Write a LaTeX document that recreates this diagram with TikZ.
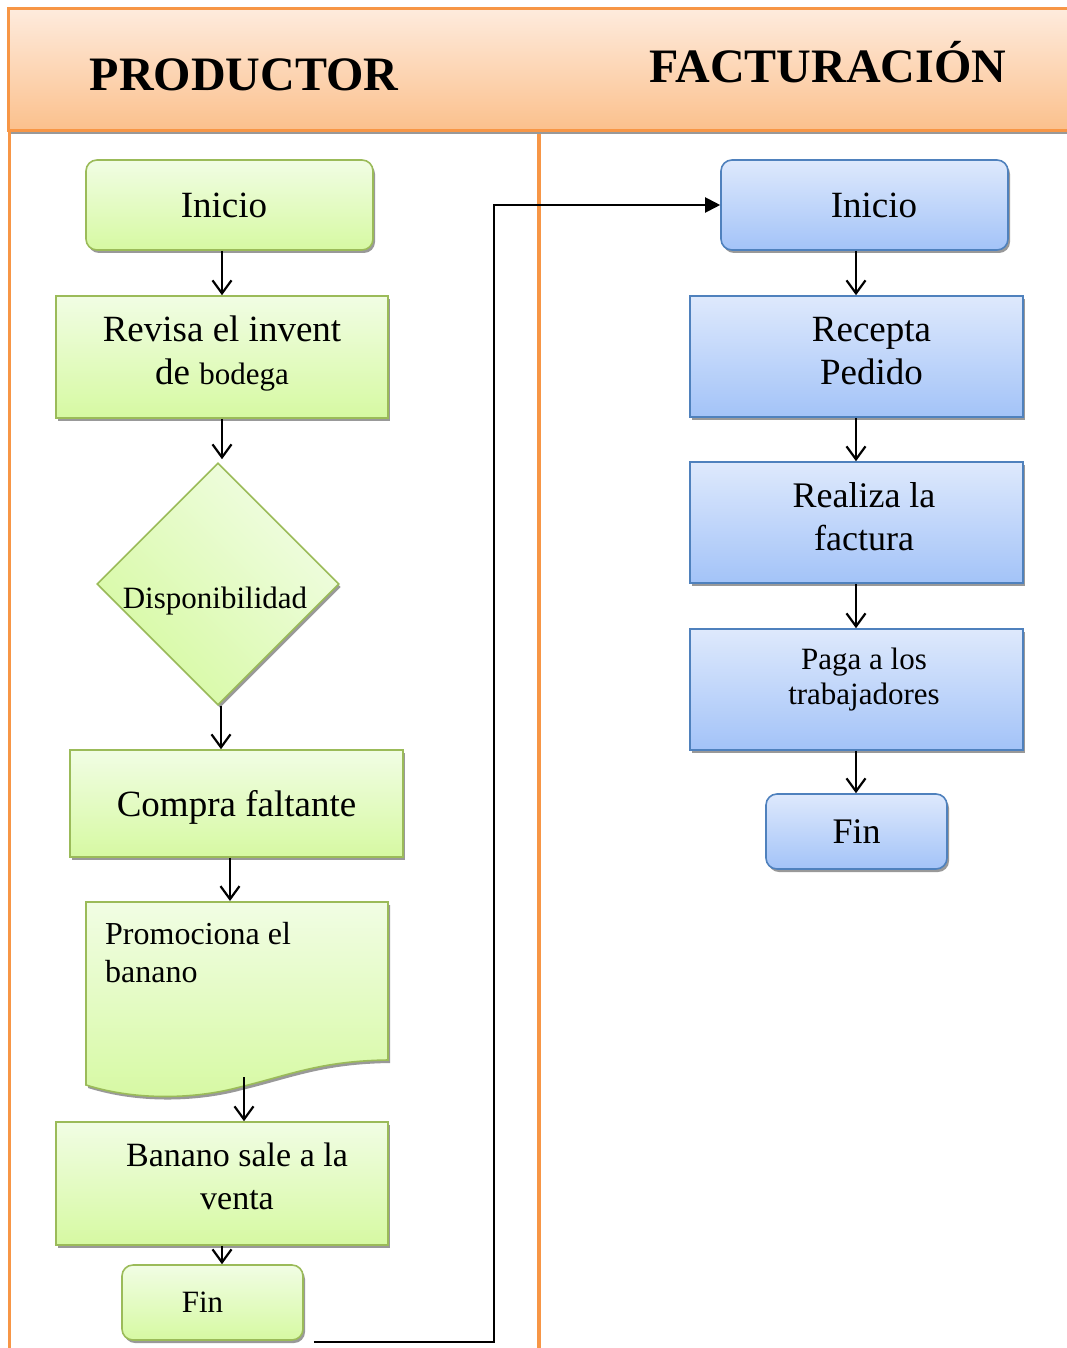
\documentclass[tikz,border=0pt]{standalone}
\usepackage{fontspec}
\setmainfont{Liberation Serif}
\usetikzlibrary{shapes.geometric,arrows.meta,shadows,calc}
\definecolor{orng}{HTML}{F79646}
\definecolor{hdtop}{HTML}{FEEBDD}
\definecolor{hdbot}{HTML}{FBC08C}
\definecolor{gtop}{HTML}{F1FDE4}
\definecolor{gbot}{HTML}{D6F9A2}
\definecolor{gbrd}{HTML}{9BBB59}
\definecolor{btop}{HTML}{DEE9FC}
\definecolor{bbot}{HTML}{A3C3F8}
\definecolor{bbrd}{HTML}{4F81BD}
\newcommand\myfs[2]{\fontsize{#1}{#2}\selectfont}
\newcommand\dn[1]{\rule[-#1pt]{0pt}{#1pt}}
\tikzset{
 shad/.style={drop shadow={shadow xshift=2pt,shadow yshift=-3pt,fill=black!40,opacity=1}},
 gbox/.style={draw=gbrd,line width=1.6pt,top color=gtop,bottom color=gbot,shad,inner sep=0pt,align=center},
 bbox/.style={draw=bbrd,line width=1.6pt,top color=btop,bottom color=bbot,shad,inner sep=0pt,align=center},
 rnd/.style={rounded corners=11pt},
 arr/.style={line width=2.2pt,-{Straight Barb[length=13pt,width=19pt]}},
 link/.style={line width=2pt,-{Triangle[length=15pt,width=15pt]}},
 lane/.style={draw=orng,line width=3.5pt},
 title/.style={font=\bfseries\myfs{48}{52}}
}
\begin{document}
\begin{tikzpicture}[x=1pt,y=-1pt]
\useasboundingbox (0,0) rectangle (1067,1348);
\fill[white] (0,0) rectangle (1067,1348);
% lanes
\draw[lane] (9.5,131) -- (9.5,1355);
\draw[lane] (539,131) -- (539,1355);
\path[draw=orng,line width=3pt,top color=hdtop,bottom color=hdbot,shad] (8.5,9) rectangle (1080,131);
\node[title] (tP) at (244,75) {PRODUCTOR};
\node[title] (tF) at (828,62) {FACTURACIÓN};
% arrow x positions
\coordinate (xa) at (222,0);
\coordinate (xb) at (221,0);
\coordinate (xc) at (230,0);
\coordinate (xd) at (244,0);
\coordinate (xr) at (856,0);
\coordinate (xl) at (494,0);
% left column
\node[gbox,rnd,minimum width=287pt,minimum height=90pt,font=\myfs{37}{43}] (iniL) at (229.5,205) {Inicio\hspace*{11pt}};
\node[gbox,minimum width=332pt,minimum height=122pt,font=\myfs{37}{43}] (rev) at (222,357) {Revisa el invent\\de {\myfs{31}{43}bodega}\dn{14}};
\node[diamond,gbox,shading angle=-45,minimum width=242pt,minimum height=242pt,aspect=1] (disp) at (218,584) {};
\node[font=\myfs{31}{36}] (dtxt) at (215,601) {Disponibilidad};
\node[gbox,minimum width=333pt,minimum height=107pt,font=\myfs{37}{43}] (comp) at (236.5,803.5) {\rule{0pt}{34pt}Compra faltante};
\path[draw=gbrd,line width=1.6pt,top color=gtop,bottom color=gbot,shad]
  (86,902) -- (388,902) -- (388,1060)
  .. controls (320,1061) and (290,1075) .. (240,1087)
  .. controls (200,1098) and (140,1102) .. (86,1085) -- cycle;
\node[anchor=west,align=left,inner sep=0pt,font=\myfs{32}{38}] (prom) at (105,953) {Promociona el\\banano};
\coordinate (doct) at (230,901);
\coordinate (docb) at (244,1077);
\node[gbox,minimum width=332pt,minimum height=123pt,font=\myfs{34}{43}] (ban) at (222,1183.5) {\hspace*{30pt}Banano sale a la\\\hspace*{30pt}venta\dn{14}};
\node[gbox,rnd,minimum width=181pt,minimum height=75pt,font=\myfs{31}{36}] (finL) at (212.5,1302.5) {Fin\hspace*{20pt}};
% right column
\node[bbox,rnd,minimum width=287pt,minimum height=90pt,font=\myfs{37}{43}] (iniR) at (864.5,205) {\hspace*{19pt}Inicio};
\node[bbox,minimum width=333pt,minimum height=121pt,font=\myfs{37}{43}] (rec) at (856.5,356.5) {\hspace*{30pt}Recepta\\\hspace*{30pt}Pedido\dn{12}};
\node[bbox,minimum width=333pt,minimum height=121pt,font=\myfs{36}{43}] (rea) at (856.5,522.5) {\hspace*{15pt}Realiza la\\\hspace*{15pt}factura\dn{12}};
\node[bbox,minimum width=333pt,minimum height=121pt,font=\myfs{31}{35}] (paga) at (856.5,689.5) {\hspace*{15pt}Paga a los\\\hspace*{15pt}trabajadores\dn{27}};
\node[bbox,rnd,minimum width=181pt,minimum height=75pt,font=\myfs{36}{40}] (finR) at (856.5,831.5) {Fin};
% connectors left
\draw[arr] (iniL.south -| xa) -- (rev.north -| xa);
\draw[arr] (rev.south -| xa) -- ([yshift=3pt]disp.north -| xa);
\draw[arr] (disp.south -| xb) -- (comp.north -| xb);
\draw[arr] (comp.south -| xc) -- (doct);
\draw[arr] (docb) -- (ban.north -| xd);
\draw[arr] (ban.south -| xa) -- (finL.north -| xa);
% connectors right
\draw[arr] (iniR.south -| xr) -- (rec.north -| xr);
\draw[arr] (rec.south -| xr) -- (rea.north -| xr);
\draw[arr] (rea.south -| xr) -- (paga.north -| xr);
\draw[arr] (paga.south -| xr) -- (finR.north -| xr);
% cross-lane link
\draw[link] ([xshift=10pt,yshift=-1pt]finL.south east) -| (xl |- iniR.west) -- (iniR.west);
\end{tikzpicture}
\end{document}
